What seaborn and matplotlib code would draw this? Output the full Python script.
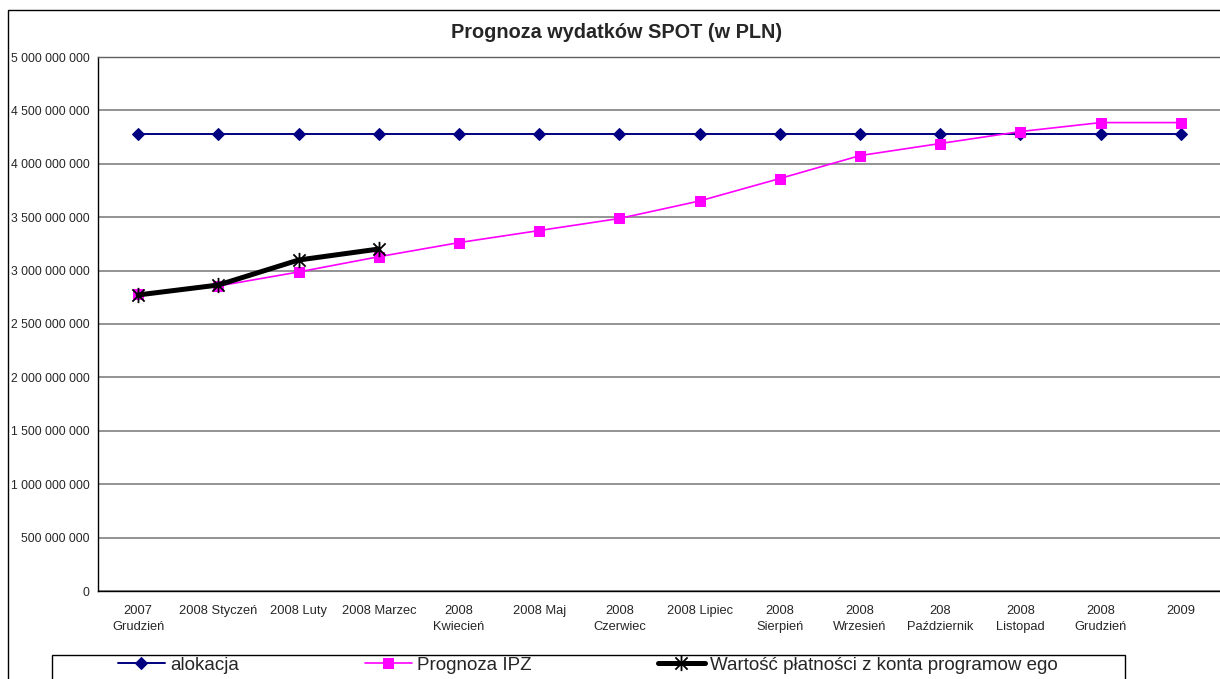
import matplotlib
matplotlib.use("Agg")
import matplotlib.pyplot as plt
import matplotlib.patches as mpatches
from matplotlib.path import Path
from matplotlib.ticker import FuncFormatter, MultipleLocator, FixedLocator
import seaborn as sns
import numpy as np

categories = ["2007\nGrudzień", "2008 Styczeń", "2008 Luty", "2008 Marzec", "2008\nKwiecień",
              "2008 Maj", "2008\nCzerwiec", "2008 Lipiec", "2008\nSierpień", "2008\nWrzesień",
              "208\nPaździernik", "2008\nListopad", "2008\nGrudzień", "2009"]
alokacja = [4.279e9] * 14
prognoza_ipz = [2.781e9, 2.856e9, 2.987e9, 3.130e9, 3.262e9, 3.375e9, 3.488e9, 3.652e9,
                3.862e9, 4.077e9, 4.190e9, 4.302e9, 4.386e9, 4.386e9]
platnosci = [2.772e9, 2.865e9, 3.099e9, 3.202e9]

sns.set_style("white")
plt.rcParams["font.family"] = ["Liberation Sans", "DejaVu Sans"]

W, H = 1220, 679
fig = plt.figure(figsize=(W / 100, H / 100), dpi=100)
left, right, top, bottom = 98, 1221, 57, 591
ax = fig.add_axes([left / W, 1 - bottom / H, (right - left) / W, (bottom - top) / H])

star = Path([(0, -1), (0, 1), (-0.8, -0.8), (0.8, 0.8), (-0.8, 0.8), (0.8, -0.8)],
            [Path.MOVETO, Path.LINETO, Path.MOVETO, Path.LINETO, Path.MOVETO, Path.LINETO])

x_all = np.arange(len(categories))
sns.lineplot(x=x_all, y=alokacja, ax=ax, color="#000080", marker="D", markersize=6.5,
             markeredgecolor="#000080", linewidth=1.4, label="alokacja", zorder=3)
sns.lineplot(x=x_all, y=prognoza_ipz, ax=ax, color="#FF00FF", marker="s", markersize=7,
             markeredgecolor="#FF00FF", linewidth=1.2, label="Prognoza IPZ", zorder=4)
sns.lineplot(x=x_all[:len(platnosci)], y=platnosci, ax=ax, color="black", marker=star,
             markersize=11, markeredgecolor="black", markeredgewidth=1.3, linewidth=3.6,
             label="Wartość płatności z konta programow ego", zorder=5)

ax.set_xlim(-0.5, len(categories) - 0.5)
ax.set_ylim(0, 5e9)
ax.yaxis.set_major_locator(MultipleLocator(5e8))
ax.yaxis.set_major_formatter(FuncFormatter(lambda v, p: f"{int(round(v)):,}".replace(",", " ")))
ax.grid(axis="y", color="#808080", linewidth=1.2)
ax.set_axisbelow(True)

ax.set_xticks(x_all)
ax.set_xticklabels(categories, fontsize=9.3, linespacing=1.5)
ax.xaxis.set_minor_locator(FixedLocator(np.arange(-0.5, len(categories), 1.0)))
ax.tick_params(axis="x", which="major", length=0, pad=10)
ax.tick_params(axis="x", which="minor", length=4, width=1, color="black", direction="out")
ax.tick_params(axis="y", length=4, width=1, color="black", direction="out", labelsize=8.7, pad=2)
for s in ["left", "bottom", "top"]:
    ax.spines[s].set_visible(True)
    ax.spines[s].set_color("black")
    ax.spines[s].set_linewidth(1)
ax.spines["top"].set_color("#606060")
ax.spines["right"].set_visible(False)
ax.set_xlabel("")
ax.set_ylabel("")

ax.get_legend().remove()

fig.text(617 / W, 1 - 33 / H, "Prognoza wydatków SPOT (w PLN)", ha="center", va="center",
         fontsize=14.3, fontweight="bold")

# outer chart border
fig.patches.append(mpatches.Rectangle((8 / W, -0.05), 1.1, 1 - 10 / H + 0.05,
                                      transform=fig.transFigure, fill=False,
                                      edgecolor="black", linewidth=1))
# legend box
fig.patches.append(mpatches.Rectangle((52 / W, -0.05), (1125 - 52) / W, 1 - 655 / H + 0.05,
                                      transform=fig.transFigure, fill=False,
                                      edgecolor="black", linewidth=1))
handles, labels = ax.get_legend_handles_labels()
leg = fig.legend(handles, labels, loc="center left", ncol=3, frameon=False,
                 bbox_to_anchor=(101 / W, 1 - 665 / H), fontsize=13.5,
                 handlelength=2.5, handletextpad=0.3, columnspacing=6.7)
fig.savefig("out.png", dpi=100, facecolor="white")
